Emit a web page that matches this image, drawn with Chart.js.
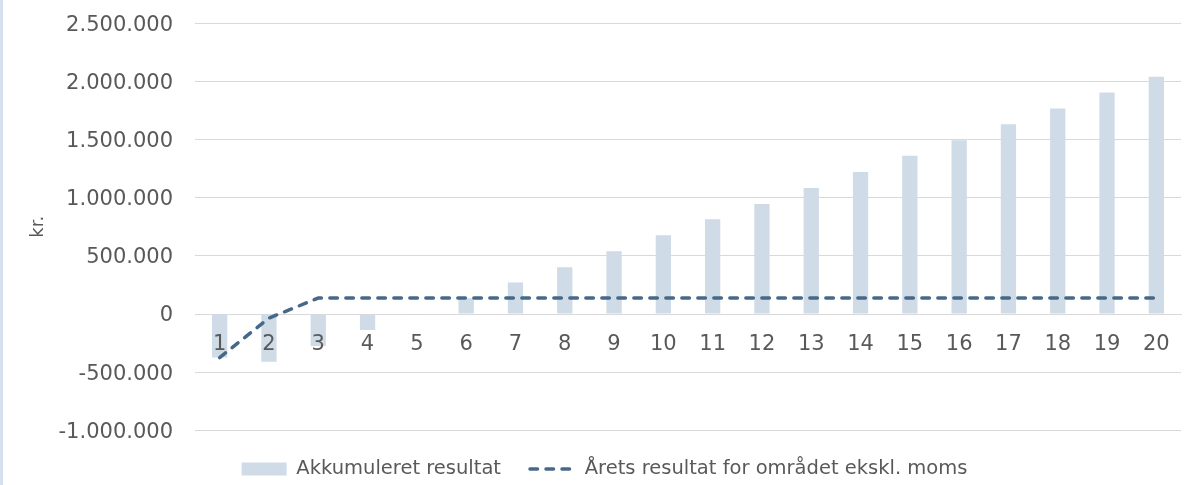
<!DOCTYPE html>
<html>
<head>
<meta charset="utf-8">
<script src="https://cdn.jsdelivr.net/npm/chart.js@4.4.1/dist/chart.umd.min.js"></script>
<style>
html,body{margin:0;padding:0;background:#ffffff;}
#wrap{position:relative;width:1196px;height:485px;overflow:hidden;}
#c{position:absolute;left:0;top:0;}
#stripe{position:absolute;left:0;top:0;width:3px;height:485px;background:#d5e1ee;}
</style>
</head>
<body>
<div id="wrap"><canvas id="c" width="1196" height="485"></canvas><div id="stripe"></div></div>
<script>
const categories = ['1','2','3','4','5','6','7','8','9','10','11','12','13','14','15','16','17','18','19','20'];
const akkumuleretResultat = [-375000, -410000, -275000, -138000, -1000, 135000, 270000, 402000, 539000, 677000, 815000, 947000, 1084000, 1222000, 1360000, 1495000, 1632000, 1767000, 1905000, 2040000];
const aaretsResultat = [-375000, -35000, 137000, 137000, 137000, 137000, 137000, 137000, 137000, 137000, 137000, 137000, 137000, 137000, 137000, 137000, 137000, 137000, 137000, 137000];
const seriesLabels = ['Akkumuleret resultat', 'Årets resultat for området ekskl. moms'];
const yTickValues = [-1000000, -500000, 0, 500000, 1000000, 1500000, 2000000, 2500000];
const yTickLabels = ['-1.000.000', '-500.000', '0', '500.000', '1.000.000', '1.500.000', '2.000.000', '2.500.000'];
const yAxisTitle = 'kr.';

const FONT = 'DejaVu Sans';
const TEXT = '#595959';
const GRID = '#D9D9D9';
const LINE_COLOR = '#46698A';
const LINE_DASH = [7.5, 8.5];
const LINE_WIDTH = 3.5;

function tickLabel(v) {
  const i = yTickValues.indexOf(v);
  return i >= 0 ? yTickLabels[i] : '';
}

new Chart(document.getElementById('c'), {
  type: 'bar',
  data: {
    labels: categories,
    datasets: [
      {
        type: 'bar',
        label: seriesLabels[0],
        data: akkumuleretResultat,
        backgroundColor: '#CFDBE6',
        borderWidth: 0,
        barPercentage: 0.31,
        categoryPercentage: 1,
        order: 1,
        pointStyle: 'rect'
      },
      {
        type: 'line',
        label: seriesLabels[1],
        data: aaretsResultat,
        borderColor: LINE_COLOR,
        backgroundColor: LINE_COLOR,
        borderWidth: LINE_WIDTH,
        borderDash: LINE_DASH,
        borderCapStyle: 'round',
        pointRadius: 0,
        pointHoverRadius: 0,
        tension: 0,
        fill: false,
        order: 0,
        pointStyle: 'line'
      }
    ]
  },
  options: {
    responsive: false,
    animation: false,
    devicePixelRatio: 1,
    events: [],
    layout: { padding: { left: 28, right: 15, top: 23.3, bottom: 0 } },
    plugins: {
      legend: {
        position: 'bottom',
        maxHeight: 54.7,
        labels: {
          usePointStyle: true,
          pointStyleWidth: 45,
          boxHeight: 13,
          padding: 29,
          color: TEXT,
          font: { family: FONT, size: 19.5 },
          sort: (a, b) => a.datasetIndex - b.datasetIndex,
          generateLabels: (chart) => {
            const items = Chart.defaults.plugins.legend.labels.generateLabels(chart);
            items.forEach((it) => {
              const ds = chart.data.datasets[it.datasetIndex];
              if (ds.type === 'line') {
                it.lineDash = ds.borderDash;
                it.lineCap = 'round';
                it.lineWidth = ds.borderWidth;
                it.strokeStyle = ds.borderColor;
                it.fillStyle = ds.borderColor;
              }
            });
            return items;
          }
        }
      },
      tooltip: { enabled: false }
    },
    scales: {
      x: {
        position: { y: 0 },
        offset: true,
        grid: { display: false },
        border: { display: true, color: GRID, width: 1 },
        ticks: {
          z: 1,
          color: TEXT,
          font: { family: FONT, size: 21 },
          padding: 9.5,
          maxRotation: 0,
          autoSkip: false
        }
      },
      y: {
        min: -1000000,
        max: 2500000,
        afterFit: (s) => { s.width = 167; },
        grid: { color: GRID, lineWidth: 1, drawTicks: true, tickLength: 22, tickColor: 'rgba(0,0,0,0)' },
        border: { display: false },
        ticks: {
          stepSize: 500000,
          color: TEXT,
          font: { family: FONT, size: 21 },
          padding: 0,
          labelOffset: 2,
          callback: (v) => tickLabel(v)
        },
        title: {
          display: true,
          text: yAxisTitle,
          color: TEXT,
          font: { family: FONT, size: 18 },
          padding: 0
        }
      }
    }
  }
});
</script>
</body>
</html>
